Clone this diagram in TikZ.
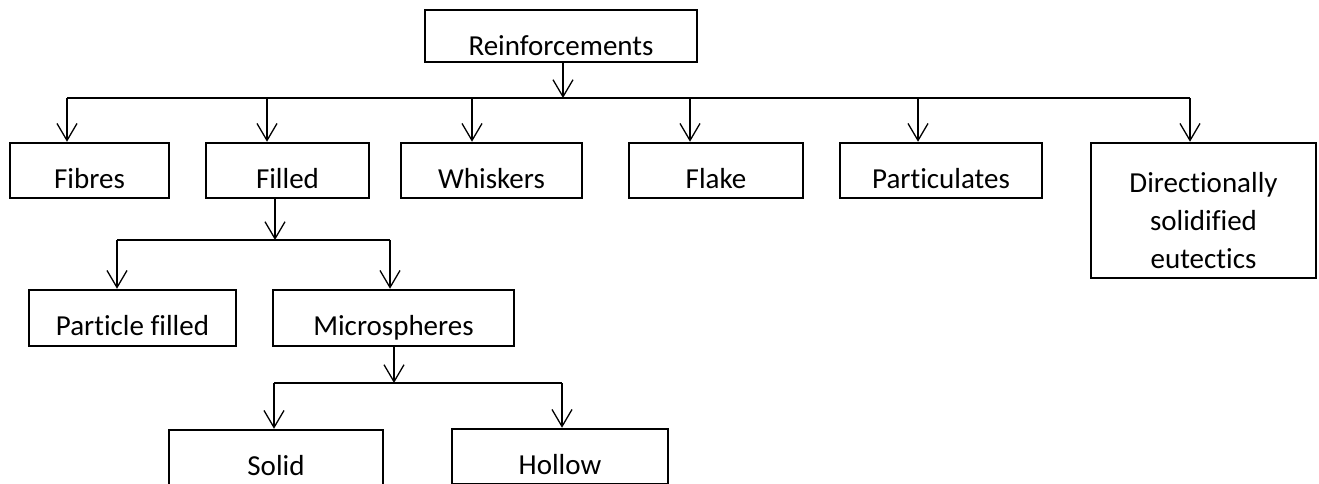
\documentclass[tikz,border=0pt]{standalone}
\usepackage{fontspec}
\setmainfont{Carlito}[Ligatures={NoCommon}]
\usetikzlibrary{arrows.meta}
\begin{document}
\begin{tikzpicture}[x=1pt,y=-1pt,
  box/.style={draw, line width=2.5pt, inner sep=0pt, text height=35pt, text depth=0pt,
    minimum height=55pt, font=\fontsize{29}{35}\selectfont},
  conn/.style={line width=1.3pt},
  arr/.style={conn, -{Straight Barb[length=17pt,width=20pt]}}]
\useasboundingbox (0,0) rectangle (1319,483);
\clip (0,0) rectangle (1319,483);
% boxes
\node[box, minimum width=272pt, minimum height=52pt, text height=38pt] (rein) at (561,36) {Reinforcements};
\node[box, minimum width=159pt] (fib) at (89.5,170.5) {Fibres};
\node[box, minimum width=163pt] (fil) at (287.5,170.5) {Filled};
\node[box, minimum width=181pt] (whi) at (491.5,170.5) {Whiskers};
\node[box, minimum width=174pt] (fla) at (716,170.5) {Flake};
\node[box, minimum width=202pt] (par) at (941,170.5) {Particulates};
\node[box, minimum width=225pt, minimum height=135pt] (dse) at (1203.5,210.5) {};
\node[inner sep=0pt, align=center, font=\fontsize{29}{38}\selectfont] (dsetext) at (1203.5,221) {Directionally\\solidified\\eutectics};
\node[box, minimum width=207pt, minimum height=56pt] (pf) at (132.5,318) {Particle filled};
\node[box, minimum width=241pt, minimum height=56pt] (mic) at (393.5,318) {Microspheres};
\node[box, minimum width=214pt] (sol) at (276,457.5) {Solid};
\node[box, minimum width=216pt] (hol) at (560,456.5) {Hollow};
% level 1 connectors
\coordinate (j1) at (563,98);
\coordinate (b1) at (67,98);
\coordinate (b2) at (267,98);
\coordinate (b3) at (472,98);
\coordinate (b4) at (690,98);
\coordinate (b5) at (918,98);
\coordinate (b6) at (1190,98);
\draw[arr] (rein.south -| j1) -- (j1);
\draw[conn] (b1) -- (b6);
\foreach \b/\n in {b1/fib,b2/fil,b3/whi,b4/fla,b5/par,b6/dse}
  \draw[arr] (\b) -- (\b |- \n.north);
% level 2 connectors
\coordinate (j2) at (275,240);
\coordinate (c1) at (117,240);
\coordinate (c2) at (390,240);
\draw[arr] (fil.south -| j2) -- (j2);
\draw[conn] (c1) -- (c2);
\draw[arr] (c1) -- (c1 |- pf.north);
\draw[arr] (c2) -- (c2 |- mic.north);
% level 3 connectors
\coordinate (j3) at (394,383);
\coordinate (d1) at (274,383);
\coordinate (d2) at (562,383);
\draw[arr] (mic.south -| j3) -- (j3);
\draw[conn] (d1) -- (d2);
\draw[arr] (d1) -- (d1 |- sol.north);
\draw[arr] (d2) -- (d2 |- hol.north);
\end{tikzpicture}
\end{document}
